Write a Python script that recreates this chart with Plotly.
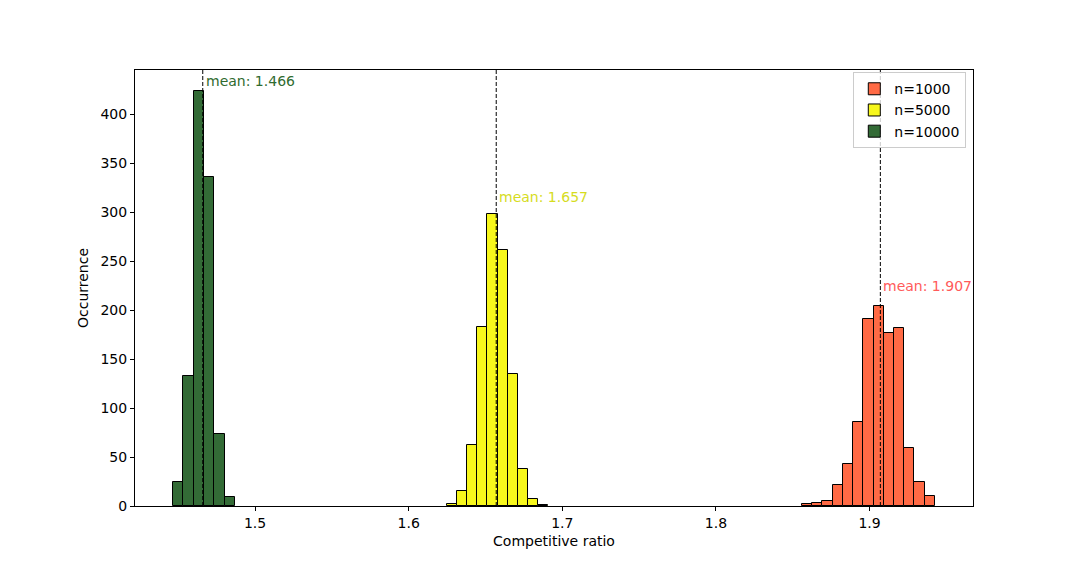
import plotly.graph_objects as go

# ---- data ----
series_names = ["n=1000", "n=5000", "n=10000"]

orange_start = 1.8560
orange_width = 0.00665
orange_counts = [2, 3, 5, 21, 43, 86, 191, 204, 177, 182, 59, 24, 10]
orange_mean = 1.907

yellow_start = 1.6248
yellow_width = 0.00662
yellow_counts = [2, 15, 62, 183, 298, 261, 135, 38, 7, 1]
yellow_mean = 1.657

green_start = 1.4466
green_width = 0.00673
green_counts = [25, 133, 424, 336, 73, 9]
green_mean = 1.466

label_y = [225, 315, 434]  # y positions of the "mean" labels

x_ticks = [1.5, 1.6, 1.7, 1.8, 1.9]
y_ticks = [0, 50, 100, 150, 200, 250, 300, 350, 400]

# ---- styles ----
bar_colors = ["#ff6a45", "#f7f71c", "#336b36"]
text_colors = ["#ff5a5a", "#d6dc1e", "#2f6b2f"]
FONT = "DejaVu Sans, Liberation Sans, sans-serif"

fig = go.Figure()

series = [
    (orange_start, orange_width, orange_counts, orange_mean),
    (yellow_start, yellow_width, yellow_counts, yellow_mean),
    (green_start, green_width, green_counts, green_mean),
]

for i, (start, width, counts, mean) in enumerate(series):
    centers = [start + width * (k + 0.5) for k in range(len(counts))]
    fig.add_trace(go.Bar(
        x=centers, y=counts, width=[width] * len(counts),
        name=series_names[i],
        marker=dict(color=bar_colors[i], line=dict(color="black", width=1)),
    ))

for i, (start, width, counts, mean) in enumerate(series):
    fig.add_shape(type="line", x0=mean, x1=mean, xref="x", y0=0, y1=1, yref="paper",
                  line=dict(color="black", width=1, dash="4px,2px"), layer="above")
    fig.add_annotation(x=mean, y=label_y[i], xref="x", yref="y",
                       text=f"mean: {mean:.3f}", showarrow=False,
                       xanchor="left", yanchor="middle", xshift=1,
                       font=dict(color=text_colors[i], size=14, family=FONT))

fig.update_layout(
    width=1080, height=576,
    paper_bgcolor="white", plot_bgcolor="white",
    margin=dict(l=127, r=115, t=62, b=78),
    barmode="overlay", bargap=0,
    font=dict(family=FONT, size=14, color="black"),
    showlegend=True,
    legend=dict(x=0.992, y=0.995, xanchor="right", yanchor="top",
                bgcolor="rgba(255,255,255,0.8)", bordercolor="#cccccc", borderwidth=1,
                font=dict(size=14), traceorder="normal", itemwidth=30),
)
fig.update_xaxes(range=[1.4219, 1.9673], tickvals=x_ticks, ticktext=[str(t) for t in x_ticks],
                 showgrid=False, zeroline=False, showline=True, linecolor="black", linewidth=1,
                 mirror=True, ticks="outside", ticklen=4, tickcolor="black",
                 title=dict(text="Competitive ratio", font=dict(size=14), standoff=6))
fig.update_yaxes(range=[0, 445], tickvals=y_ticks,
                 showgrid=False, zeroline=False, showline=True, linecolor="black", linewidth=1,
                 mirror=True, ticks="outside", ticklen=4, tickcolor="black",
                 title=dict(text="Occurrence", font=dict(size=14), standoff=8))

fig.write_html("out.html")
